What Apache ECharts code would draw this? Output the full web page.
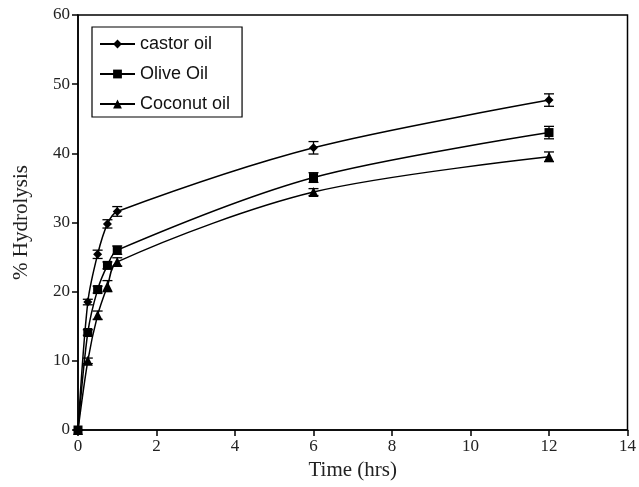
<!DOCTYPE html>
<html>
<head>
<meta charset="utf-8">
<script src="https://cdn.jsdelivr.net/npm/echarts@6/dist/echarts.min.js"></script>
<style>
  html, body { margin: 0; padding: 0; background: #fff; }
  #chart { width: 639px; height: 487px; }
</style>
</head>
<body>
<div id="chart"></div>
<script>
'use strict';
// 时间点 (hrs)
var times = [0, 0.25, 0.5, 0.75, 1, 6, 12];
// 各油的水解百分比
var castor = [0, 18.5, 25.4, 29.8, 31.6, 40.8, 47.7];
var olive = [0, 14.1, 20.3, 23.8, 26.0, 36.5, 43.0];
var coconut = [0, 10.0, 16.6, 20.8, 24.3, 34.4, 39.5];
// 误差 (±)
var castorErr = [0, 0.4, 0.6, 0.6, 0.7, 0.9, 0.9];
var oliveErr = [0, 0.4, 0.5, 0.5, 0.6, 0.7, 0.9];
var coconutErr = [0, 0.4, 0.6, 0.8, 0.6, 0.5, 0.7];
var names = ['castor oil', 'Olive Oil', 'Coconut oil'];
var symbols = ['diamond', 'rect', 'triangle'];

var chart = echarts.init(document.getElementById('chart'));

function pairs(vals) {
    return times.map(function (t, i) {
        return [t, vals[i]];
    });
}

// 误差线
function errSeries(vals, errs) {
    return {
        type: 'custom',
        silent: true,
        z: 3,
        data: times.map(function (t, i) {
            return [t, vals[i] - errs[i], vals[i] + errs[i]];
        }),
        renderItem: function (params, api) {
            var lo = api.coord([api.value(0), api.value(1)]);
            var hi = api.coord([api.value(0), api.value(2)]);
            var w = 5;
            var st = { stroke: '#000', lineWidth: 1.3 };
            return {
                type: 'group',
                children: [
                    { type: 'line', shape: { x1: lo[0], y1: lo[1], x2: hi[0], y2: hi[1] }, style: st },
                    { type: 'line', shape: { x1: lo[0] - w, y1: lo[1], x2: lo[0] + w, y2: lo[1] }, style: st },
                    { type: 'line', shape: { x1: hi[0] - w, y1: hi[1], x2: hi[0] + w, y2: hi[1] }, style: st }
                ]
            };
        }
    };
}

function lineSeries(idx, vals) {
    return {
        name: names[idx],
        type: 'line',
        data: pairs(vals),
        smooth: 0.3,
        symbol: symbols[idx],
        symbolSize: idx === 2 ? 10 : 9,
        showAllSymbol: true,
        z: 4,
        itemStyle: { color: '#000' },
        lineStyle: { color: '#000', width: 1.5 }
    };
}

var tickFont = { fontFamily: 'Liberation Serif', fontSize: 17, color: '#222' };
var nameFont = { fontFamily: 'Liberation Serif', fontSize: 21, color: '#222' };

var option = {
    animation: false,
    backgroundColor: '#fff',
    grid: { left: 78, right: 7, top: 15, bottom: 57, show: true, borderColor: '#000', borderWidth: 1.5 },
    legend: {
        orient: 'vertical',
        left: 92,
        top: 27,
        padding: [8, 12, 4, 7],
        itemGap: 12,
        itemWidth: 35,
        itemHeight: 11,
        borderColor: '#000',
        borderWidth: 1.2,
        borderRadius: 0,
        data: names,
        textStyle: { fontFamily: 'Liberation Sans', fontSize: 18, color: '#111' }
    },
    xAxis: {
        type: 'value',
        min: 0,
        max: 14,
        interval: 2,
        name: 'Time (hrs)',
        nameLocation: 'middle',
        nameGap: 24,
        nameTextStyle: nameFont,
        axisLine: { show: true, lineStyle: { color: '#000', width: 1.5 } },
        axisTick: { show: true, inside: false, length: 6, lineStyle: { color: '#000', width: 1.5 } },
        axisLabel: tickFont,
        splitLine: { show: false }
    },
    yAxis: {
        type: 'value',
        min: 0,
        max: 60,
        interval: 10,
        name: '% Hydrolysis',
        nameLocation: 'middle',
        nameGap: 46,
        nameTextStyle: nameFont,
        axisLine: { show: true, lineStyle: { color: '#000', width: 1.5 } },
        axisTick: { show: true, inside: false, length: 6, lineStyle: { color: '#000', width: 1.5 } },
        axisLabel: tickFont,
        splitLine: { show: false }
    },
    series: [
        lineSeries(0, castor),
        lineSeries(1, olive),
        lineSeries(2, coconut),
        errSeries(castor, castorErr),
        errSeries(olive, oliveErr),
        errSeries(coconut, coconutErr)
    ]
};

chart.setOption(option);
</script>
</body>
</html>
